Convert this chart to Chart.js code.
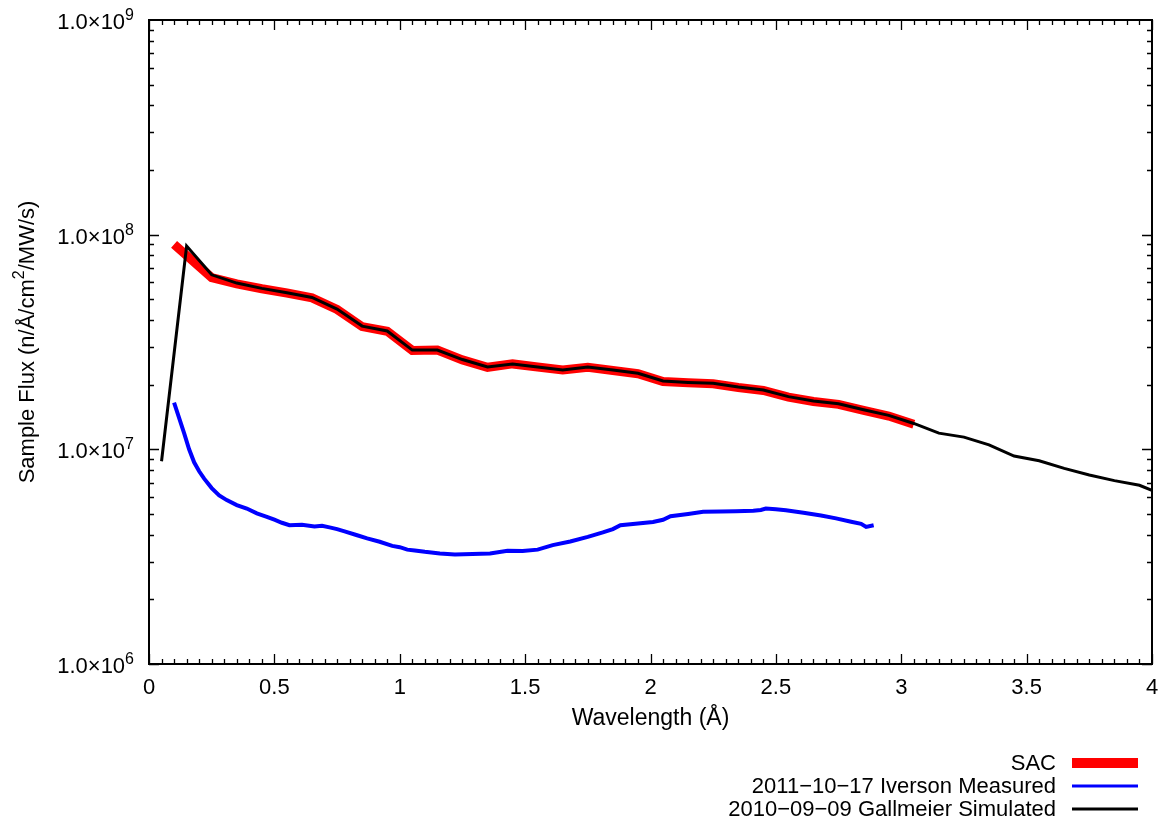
<!DOCTYPE html>
<html>
<head>
<meta charset="utf-8">
<title>Sample Flux</title>
<script src="https://cdn.jsdelivr.net/npm/chart.js@4.4.1/dist/chart.umd.min.js"></script>
<style>
  html, body { margin: 0; padding: 0; background: #fff; }
  #fluxChart { display: block; }
</style>
</head>
<body>
<canvas id="fluxChart" width="1174" height="824"></canvas>
<script>
// SAC (red, thick)
const sacWavelength = [0.10, 0.25, 0.35, 0.45, 0.55, 0.65, 0.75, 0.85, 0.95, 1.05, 1.15, 1.25, 1.35, 1.45, 1.55, 1.65, 1.75, 1.85, 1.95, 2.05, 2.15, 2.25, 2.35, 2.45, 2.55, 2.65, 2.75, 2.85, 2.95, 3.05]
const sacFlux = [9.0e7, 6.3e7, 5.9e7, 5.6e7, 5.35e7, 5.08e7, 4.48e7, 3.73e7, 3.55e7, 2.89e7, 2.9e7, 2.61e7, 2.41e7, 2.5e7, 2.42e7, 2.34e7, 2.41e7, 2.33e7, 2.25e7, 2.07e7, 2.04e7, 2.02e7, 1.94e7, 1.88e7, 1.75e7, 1.67e7, 1.62e7, 1.52e7, 1.43e7, 1.31e7]

// 2011-10-17 Iverson Measured (blue)
const measWavelength = [0.10, 0.12, 0.14, 0.16, 0.18, 0.20, 0.22, 0.25, 0.28, 0.31, 0.35, 0.39, 0.43, 0.47, 0.50, 0.53, 0.56, 0.61, 0.66, 0.69, 0.72, 0.75, 0.78, 0.83, 0.87, 0.92, 0.97, 1.00, 1.03, 1.06, 1.10, 1.16, 1.22, 1.29, 1.36, 1.43, 1.49, 1.55, 1.61, 1.68, 1.75, 1.81, 1.85, 1.88, 1.94, 2.01, 2.05, 2.08, 2.15, 2.21, 2.28, 2.34, 2.41, 2.44, 2.46, 2.50, 2.54, 2.61, 2.68, 2.74, 2.80, 2.84, 2.86, 2.89]
const measFlux = [1.65e7, 1.40e7, 1.19e7, 1.0e7, 8.7e6, 7.9e6, 7.3e6, 6.6e6, 6.1e6, 5.8e6, 5.5e6, 5.3e6, 5.03e6, 4.85e6, 4.7e6, 4.55e6, 4.43e6, 4.45e6, 4.37e6, 4.4e6, 4.33e6, 4.25e6, 4.15e6, 3.98e6, 3.85e6, 3.71e6, 3.55e6, 3.5e6, 3.41e6, 3.38e6, 3.33e6, 3.27e6, 3.24e6, 3.25e6, 3.27e6, 3.37e6, 3.36e6, 3.41e6, 3.58e6, 3.72e6, 3.91e6, 4.1e6, 4.25e6, 4.43e6, 4.5e6, 4.59e6, 4.7e6, 4.88e6, 5.0e6, 5.12e6, 5.14e6, 5.15e6, 5.18e6, 5.22e6, 5.3e6, 5.26e6, 5.2e6, 5.06e6, 4.92e6, 4.77e6, 4.6e6, 4.5e6, 4.35e6, 4.43e6]

// 2010-09-09 Gallmeier Simulated (black)
const simWavelength = [0.05, 0.15, 0.25, 0.35, 0.45, 0.55, 0.65, 0.75, 0.85, 0.95, 1.05, 1.15, 1.25, 1.35, 1.45, 1.55, 1.65, 1.75, 1.85, 1.95, 2.05, 2.15, 2.25, 2.35, 2.45, 2.55, 2.65, 2.75, 2.85, 2.95, 3.05, 3.15, 3.25, 3.35, 3.45, 3.55, 3.65, 3.75, 3.85, 3.95, 4.05]
const simFlux = [8.8e6, 8.85e7, 6.5e7, 5.95e7, 5.62e7, 5.36e7, 5.1e7, 4.5e7, 3.75e7, 3.56e7, 2.9e7, 2.9e7, 2.62e7, 2.42e7, 2.5e7, 2.42e7, 2.34e7, 2.42e7, 2.34e7, 2.26e7, 2.08e7, 2.05e7, 2.03e7, 1.95e7, 1.89e7, 1.76e7, 1.68e7, 1.63e7, 1.53e7, 1.44e7, 1.32e7, 1.19e7, 1.14e7, 1.05e7, 9.3e6, 8.85e6, 8.15e6, 7.6e6, 7.15e6, 6.8e6, 6.1e6]

const xTickValues = [0, 0.5, 1, 1.5, 2, 2.5, 3, 3.5, 4]
const yDecades = [6, 7, 8, 9]

const FONT = "'Liberation Sans', Arial, Helvetica, sans-serif"

function toPoints(xs, ys) {
  return xs.map((x, i) => ({ x: x, y: ys[i] }))
}

// gnuplot-like frame, inward ticks, y labels with superscripts, y title and legend
const gnuplotStyle = {
  id: "gnuplotStyle",
  afterDraw(chart) {
    const ctx = chart.ctx
    const area = chart.chartArea
    const xs = chart.scales.x
    const ys = chart.scales.y
    ctx.save()
    ctx.strokeStyle = "#000"

    // ticks
    ctx.lineWidth = 1.3
    ctx.beginPath()
    for (let k = 0; k <= 80; k++) {
      const px = Math.round(xs.getPixelForValue(k * 0.05)) + 0.5
      const len = k % 10 === 0 ? 10 : 5
      ctx.moveTo(px, area.bottom); ctx.lineTo(px, area.bottom - len)
      ctx.moveTo(px, area.top); ctx.lineTo(px, area.top + len)
    }
    for (let d = yDecades[0]; d < yDecades[yDecades.length - 1]; d++) {
      for (let m = 1; m <= 9; m++) {
        const py = Math.round(ys.getPixelForValue(m * Math.pow(10, d))) + 0.5
        const len = m === 1 ? 10 : 5
        ctx.moveTo(area.left, py); ctx.lineTo(area.left + len, py)
        ctx.moveTo(area.right, py); ctx.lineTo(area.right - len, py)
      }
    }
    ctx.stroke()

    // frame
    ctx.lineWidth = 2
    ctx.strokeRect(area.left, area.top, area.right - area.left, area.bottom - area.top)

    // y tick labels: 1.0x10^n
    ctx.fillStyle = "#000"
    const mainFont = "22px " + FONT
    const expFont = "16px " + FONT
    yDecades.forEach((d) => {
      const py = ys.getPixelForValue(Math.pow(10, d))
      ctx.font = expFont
      const expW = ctx.measureText(String(d)).width
      ctx.font = mainFont
      const mainW = ctx.measureText("1.0\u00d710").width
      const right = area.left - 15
      ctx.textAlign = "left"
      ctx.textBaseline = "middle"
      ctx.fillText("1.0\u00d710", right - expW - mainW, py + 3)
      ctx.font = expFont
      ctx.textBaseline = "alphabetic"
      ctx.fillText(String(d), right - expW, py)
    })

    // y title, rotated, with real superscript
    const parts = [["Sample Flux (n/\u00c5/cm", mainFont, 0], ["2", expFont, -8], ["/MW/s)", mainFont, 0]]
    let total = 0
    parts.forEach((p) => { ctx.font = p[1]; total += ctx.measureText(p[0]).width })
    ctx.translate(27, (area.top + area.bottom) / 2)
    ctx.rotate(-Math.PI / 2)
    ctx.textAlign = "left"
    ctx.textBaseline = "middle"
    let tx = -total / 2
    parts.forEach((p) => {
      ctx.font = p[1]
      ctx.fillText(p[0], tx, p[2] + 1)
      tx += ctx.measureText(p[0]).width
    })
    ctx.setTransform(1, 0, 0, 1, 0, 0)

    // legend
    const legendRight = 1056
    const rowY = [763, 786, 809]
    const entries = [0, 1, 2].map((i) => chart.data.datasets[i])
    ctx.font = mainFont
    ctx.textAlign = "right"
    ctx.textBaseline = "middle"
    entries.forEach((ds, i) => {
      ctx.fillStyle = "#000"
      ctx.fillText(ds.label, legendRight, rowY[i] + 1)
      ctx.strokeStyle = ds.borderColor
      ctx.lineWidth = ds.legendWidth
      ctx.beginPath()
      ctx.moveTo(1072, rowY[i])
      ctx.lineTo(1138, rowY[i])
      ctx.stroke()
    })
    ctx.restore()
  },
}

const ctx = document.getElementById("fluxChart")

new Chart(ctx, {
  type: "line",
  data: {
    datasets: [
      {
        label: "SAC",
        data: toPoints(sacWavelength, sacFlux),
        borderColor: "#ff0000",
        borderWidth: 9,
        legendWidth: 10,
        borderCapStyle: "butt",
        pointRadius: 0,
        tension: 0,
        order: 3,
      },
      {
        label: "2011\u221210\u221217 Iverson Measured",
        data: toPoints(measWavelength, measFlux),
        borderColor: "#0000ff",
        borderWidth: 4,
        legendWidth: 3,
        pointRadius: 0,
        tension: 0,
        order: 2,
      },
      {
        label: "2010\u221209\u221209 Gallmeier Simulated",
        data: toPoints(simWavelength, simFlux),
        borderColor: "#000000",
        borderWidth: 3,
        legendWidth: 3,
        pointRadius: 0,
        tension: 0,
        clip: 0,
        order: 1,
      },
    ],
  },
  options: {
    responsive: false,
    animation: false,
    devicePixelRatio: 1,
    layout: {
      padding: { top: 20, right: 22, left: 0, bottom: 0 },
    },
    plugins: {
      legend: { display: false },
      tooltip: { enabled: false },
    },
    scales: {
      x: {
        type: "linear",
        min: 0,
        max: 4,
        afterBuildTicks: (scale) => {
          scale.ticks = xTickValues.map((v) => ({ value: v }))
        },
        afterFit: (scale) => {
          scale.height = 160
        },
        grid: { display: false, drawTicks: false },
        border: { display: false },
        ticks: {
          color: "#000",
          padding: 11,
          maxRotation: 0,
          font: { family: FONT, size: 22 },
          callback: (value) => String(value),
        },
        title: {
          display: true,
          text: "Wavelength (\u00c5)",
          color: "#000",
          font: { family: FONT, size: 23 },
          padding: { top: 0, bottom: 92 },
        },
      },
      y: {
        type: "logarithmic",
        min: 1e6,
        max: 1e9,
        afterFit: (scale) => {
          scale.width = 149
        },
        grid: { display: false, drawTicks: false },
        border: { display: false },
        ticks: { display: false },
      },
    },
  },
  plugins: [gnuplotStyle],
})
</script>
</body>
</html>
